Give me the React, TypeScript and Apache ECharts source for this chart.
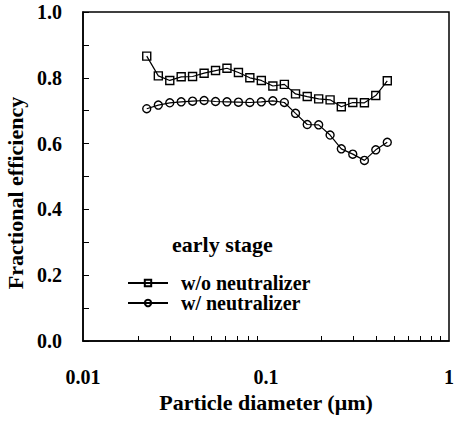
import React, { useEffect, useRef } from "react";
import * as echarts from "echarts";

const diameters = [0.0223, 0.0258, 0.0298, 0.0344, 0.0397, 0.0459, 0.053, 0.0612, 0.0707, 0.0816, 0.0943, 0.109, 0.126, 0.145, 0.168, 0.194, 0.224, 0.258, 0.298, 0.345, 0.398, 0.46];
const withoutNeutralizer = [0.866, 0.806, 0.792, 0.803, 0.804, 0.814, 0.822, 0.829, 0.816, 0.8, 0.792, 0.775, 0.78, 0.751, 0.743, 0.736, 0.733, 0.712, 0.725, 0.724, 0.746, 0.791];
const withNeutralizer = [0.706, 0.717, 0.724, 0.727, 0.729, 0.731, 0.728, 0.727, 0.726, 0.725, 0.727, 0.73, 0.725, 0.692, 0.658, 0.657, 0.626, 0.584, 0.568, 0.549, 0.581, 0.604];
const xMinorTicks = [0.02, 0.03, 0.04, 0.05, 0.06, 0.07, 0.08, 0.09, 0.2, 0.3, 0.4, 0.5, 0.6, 0.7, 0.8, 0.9];
const seriesNames = ["w/o neutralizer", "w/ neutralizer"];
const legendTitle = "early stage";
const xAxisTitle = "Particle diameter (\u03bcm)";
const yAxisTitle = "Fractional efficiency";

const FONT = "'Liberation Serif', 'Times New Roman', serif";

export default function App() {
  const ref = useRef<HTMLDivElement>(null);
  useEffect(() => {
    if (!ref.current) return;
    const chart = echarts.init(ref.current, undefined, { renderer: "svg" });
    const mk = (vals: number[]) => diameters.map((d, i) => [d, vals[i]]);
    const seriesCommon = {
      type: "line" as const,
      symbolSize: 8,
      lineStyle: { color: "#000", width: 1.2 },
      itemStyle: { color: "rgba(0,0,0,0)", borderColor: "#000", borderWidth: 1.4 },
    };
    chart.setOption({
      animation: false,
      backgroundColor: "#fff",
      grid: { left: 83, right: 6, top: 12, bottom: 83, show: true, borderColor: "#000", borderWidth: 1.5 },
      xAxis: {
        type: "log",
        logBase: 10,
        min: 0.01,
        max: 1,
        name: xAxisTitle,
        nameLocation: "middle",
        nameGap: 45,
        nameTextStyle: { fontFamily: FONT, fontWeight: "bold", fontSize: 22, color: "#000" },
        axisLine: { lineStyle: { color: "#000", width: 1.5 } },
        axisTick: { inside: true, length: 5, customValues: xMinorTicks, lineStyle: { color: "#000" } },
        axisLabel: {
          margin: 26,
          fontFamily: FONT,
          fontWeight: "bold",
          fontSize: 20,
          color: "#000",
          formatter: (v: number) => String(v),
        },
        splitLine: { show: false },
      },
      yAxis: {
        type: "value",
        min: 0,
        max: 1,
        interval: 0.2,
        axisLine: { show: true, lineStyle: { color: "#000", width: 1.5 } },
        axisTick: { inside: true, length: 6, lineStyle: { color: "#000" } },
        minorTick: { show: true, splitNumber: 2, length: 6, lineStyle: { color: "#000" } },
        axisLabel: {
          margin: 21,
          fontFamily: FONT,
          fontWeight: "bold",
          fontSize: 20,
          color: "#000",
          formatter: (v: number) => v.toFixed(1),
        },
        splitLine: { show: false },
        minorSplitLine: { show: false },
      },
      legend: {
        data: seriesNames,
        orient: "vertical",
        left: 127,
        top: 273,
        padding: 0,
        itemWidth: 40,
        itemHeight: 8,
        itemGap: 0,
        textStyle: { fontFamily: FONT, fontWeight: "bold", fontSize: 20, color: "#000", lineHeight: 19, padding: [0, 0, 0, 8] },
      },
      graphic: [
        {
          type: "text",
          left: 172,
          top: 233,
          style: { text: legendTitle, font: `bold 22px ${FONT}`, fill: "#000" },
        },
        {
          type: "text",
          x: 15,
          y: 193,
          rotation: Math.PI / 2,
          style: { text: yAxisTitle, font: `bold 22px ${FONT}`, fill: "#000", align: "center", verticalAlign: "middle" },
        },
      ],
      series: [
        { ...seriesCommon, name: seriesNames[0], symbol: "rect", data: mk(withoutNeutralizer) },
        { ...seriesCommon, name: seriesNames[1], symbol: "circle", data: mk(withNeutralizer) },
      ],
    });
    return () => chart.dispose();
  }, []);
  return <div ref={ref} style={{ width: 457, height: 424, position: "absolute", left: 0, top: 0 }} />;
}
